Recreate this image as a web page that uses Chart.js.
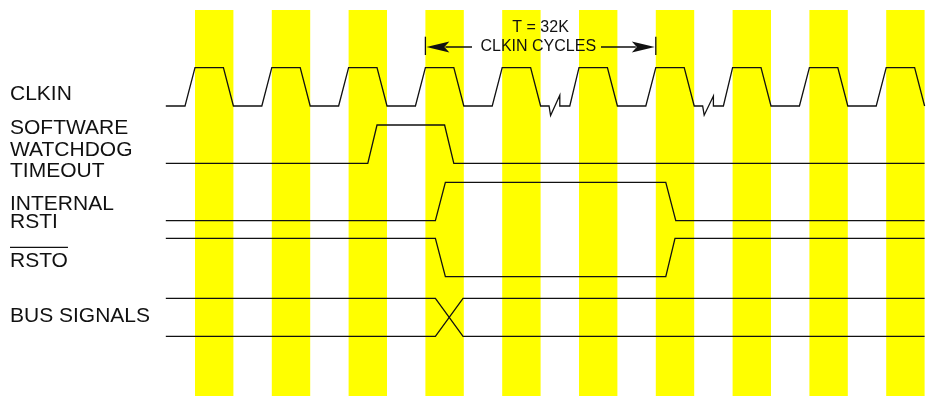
<!DOCTYPE html>
<html>
<head>
<meta charset="utf-8">
<title>Software watchdog reset timing</title>
<script src="https://cdn.jsdelivr.net/npm/chart.js@4.4.1/dist/chart.umd.min.js"></script>
<style>
  html, body { margin: 0; padding: 0; background: #fff; }
  #timing { display: block; }
</style>
</head>
<body>
<canvas id="timing" width="927" height="396"></canvas>
<script>
// time axis is in CLKIN cycles, 0 = end of first rising edge
// level: 1 = high, 0 = low (fractions are the break marks)
const clkinTime  = [-0.38, -0.13, 0, 0.37, 0.5, 0.87, 1, 1.37, 1.5, 1.87, 2, 2.37, 2.5, 2.87, 3, 3.37, 3.5,
                    3.87, 4, 4.37, 4.5, 4.61, 4.63, 4.75, 4.75, 4.88, 5, 5.37, 5.5, 5.87, 6, 6.37, 6.5,
                    6.61, 6.63, 6.75, 6.75, 6.88, 7, 7.37, 7.5, 7.87, 8, 8.37, 8.5, 8.87, 9, 9.37, 9.5];
const clkinLevel = [0, 0, 1, 1, 0, 0, 1, 1, 0, 0, 1, 1, 0, 0, 1, 1, 0,
                    0, 1, 1, 0, 0, -0.25, 0.28, 0, 0, 1, 1, 0, 0, 1, 1, 0,
                    0, -0.24, 0.26, 0, 0, 1, 1, 0, 0, 1, 1, 0, 0, 1, 1, 0];

const watchdogTime  = [-0.38, 2.25, 2.37, 3.25, 3.37, 9.5];
const watchdogLevel = [0, 0, 1, 1, 0, 0];

const rstiTime  = [-0.38, 3.13, 3.26, 6.13, 6.26, 9.5];
const rstiLevel = [0, 0, 1, 1, 0, 0];

const rstoTime  = [-0.38, 3.13, 3.26, 6.13, 6.25, 9.5];
const rstoLevel = [1, 1, 0, 0, 1, 1];

const busTime   = [-0.38, 3.13, 3.49, 9.5];
const busLevelA = [1, 1, 0, 0];
const busLevelB = [0, 0, 1, 1];

// highlighted clock-high windows
const bandStart = [0, 1, 2, 3, 4, 5, 6, 7, 8, 9];
const bandWidth = 0.5;

// T = 32K span
const spanFrom = 3;
const spanTo = 6;
const spanText = ['T = 32K', 'CLKIN CYCLES'];

// ---- layout (y scale runs 0..396 top to bottom) ----
const lanes = {
    clkin:    { low: 106,   high: 67.7 },
    watchdog: { low: 163.3, high: 125 },
    rsti:     { low: 220.7, high: 182.3 },
    rsto:     { low: 276.7, high: 238.3 },
    bus:      { low: 336.3, high: 298.3 }
};
const labelLines = [
    { text: 'CLKIN', y: 100 },
    { text: 'SOFTWARE', y: 134 },
    { text: 'WATCHDOG', y: 155.7 },
    { text: 'TIMEOUT', y: 177.3 },
    { text: 'INTERNAL', y: 210 },
    { text: 'RSTI', y: 228 },
    { text: 'RSTO', y: 266.7, bar: true },
    { text: 'BUS SIGNALS', y: 321.7 }
];

function wave(times, levels, lane) {
    return times.map((t, i) => ({ x: t, y: lane.low + (lane.high - lane.low) * levels[i] }));
}

function trace(times, levels, lane) {
    return {
        data: wave(times, levels, lane),
        showLine: true,
        borderColor: '#111',
        borderWidth: 1.3,
        pointRadius: 0,
        tension: 0,
        fill: false
    };
}

const bands = {
    id: 'bands',
    beforeDatasetsDraw(chart) {
        const { ctx, scales: { x, y } } = chart;
        ctx.save();
        ctx.fillStyle = '#ffff00';
        bandStart.forEach(b => {
            const x0 = x.getPixelForValue(b);
            const x1 = x.getPixelForValue(b + bandWidth);
            const y0 = y.getPixelForValue(10);
            const y1 = y.getPixelForValue(396);
            ctx.fillRect(x0, y0, x1 - x0, y1 - y0);
        });
        ctx.restore();
    }
};

const notes = {
    id: 'notes',
    afterDatasetsDraw(chart) {
        const { ctx, scales: { x, y } } = chart;
        ctx.save();
        ctx.fillStyle = '#111';
        ctx.strokeStyle = '#111';
        ctx.lineWidth = 1.3;

        // signal names
        ctx.font = '21px "Liberation Sans", Arial, sans-serif';
        ctx.textAlign = 'left';
        ctx.textBaseline = 'alphabetic';
        labelLines.forEach(l => {
            const py = y.getPixelForValue(l.y);
            ctx.fillText(l.text, 10, py);
            if (l.bar) {
                const w = ctx.measureText(l.text).width;
                ctx.beginPath();
                ctx.moveTo(10, py - 19.4);
                ctx.lineTo(10 + w, py - 19.4);
                ctx.stroke();
            }
        });

        // T = 32K span arrows
        const xa = x.getPixelForValue(spanFrom);
        const xb = x.getPixelForValue(spanTo);
        const ya = y.getPixelForValue(47);
        [xa, xb].forEach(px => {
            ctx.beginPath();
            ctx.moveTo(px, y.getPixelForValue(36.7));
            ctx.lineTo(px, y.getPixelForValue(55));
            ctx.stroke();
        });
        ctx.beginPath();
        ctx.moveTo(xa + 20, ya);
        ctx.lineTo(472, ya);
        ctx.moveTo(601, ya);
        ctx.lineTo(xb - 20, ya);
        ctx.stroke();
        [[xa + 1, 1], [xb - 1, -1]].forEach(([tip, dir]) => {
            ctx.beginPath();
            ctx.moveTo(tip, ya);
            ctx.lineTo(tip + dir * 23, ya - 5.5);
            ctx.lineTo(tip + dir * 18, ya);
            ctx.lineTo(tip + dir * 23, ya + 5.5);
            ctx.closePath();
            ctx.fill();
        });

        ctx.font = '16px "Liberation Sans", Arial, sans-serif';
        ctx.textAlign = 'center';
        ctx.fillText(spanText[0], x.getPixelForValue(4.5), y.getPixelForValue(31.7));
        ctx.fillText(spanText[1], x.getPixelForValue(4.47), y.getPixelForValue(50.7));
        ctx.restore();
    }
};

new Chart(document.getElementById('timing'), {
    type: 'scatter',
    data: {
        datasets: [
            trace(clkinTime, clkinLevel, lanes.clkin),
            trace(watchdogTime, watchdogLevel, lanes.watchdog),
            trace(rstiTime, rstiLevel, lanes.rsti),
            trace(rstoTime, rstoLevel, lanes.rsto),
            trace(busTime, busLevelA, lanes.bus),
            trace(busTime, busLevelB, lanes.bus)
        ]
    },
    options: {
        responsive: false,
        animation: false,
        devicePixelRatio: 1,
        layout: { padding: 0 },
        scales: {
            x: { type: 'linear', min: -195 / 76.8, max: 732 / 76.8, display: false },
            y: { type: 'linear', min: 0, max: 396, reverse: true, display: false }
        },
        plugins: {
            legend: { display: false },
            tooltip: { enabled: false }
        }
    },
    plugins: [bands, notes]
});
</script>
</body>
</html>
